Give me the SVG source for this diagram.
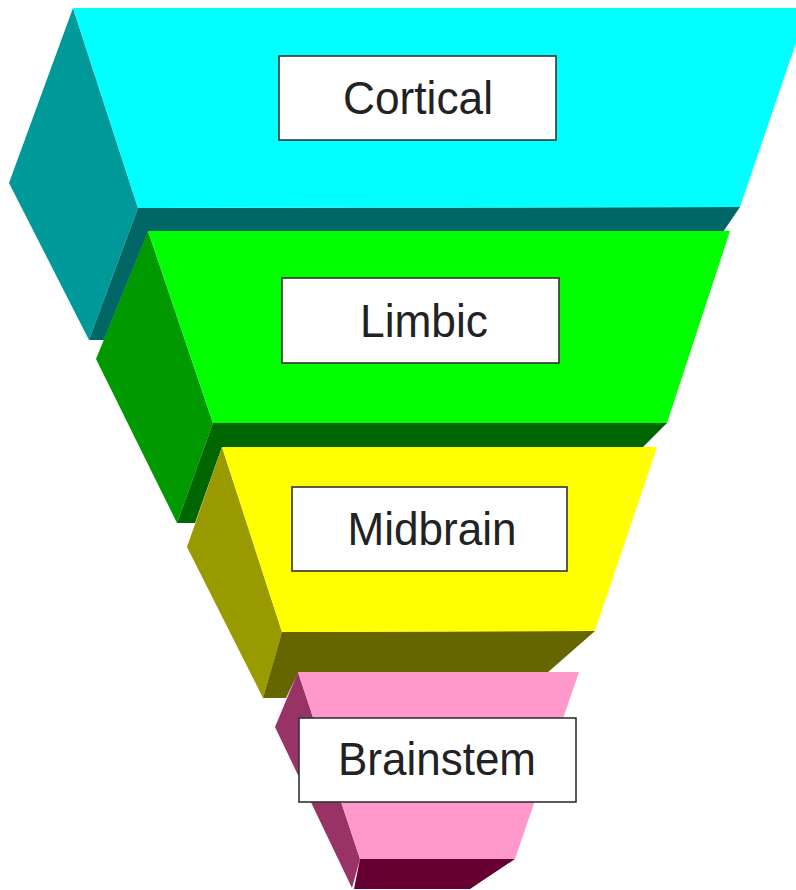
<svg xmlns="http://www.w3.org/2000/svg" width="796" height="890" viewBox="0 0 796 890">
<style>
.box{fill:#ffffff;stroke:#333333;stroke-width:1.6}
.lbl{font-family:"Liberation Sans",Arial,sans-serif;font-size:46px;fill:#222222;text-anchor:middle}
</style>
<rect x="0" y="0" width="796" height="890" fill="#ffffff"/>
<g id="cortical">
<polygon points="73,8 9,183 89,340 138,208" fill="#009999"/>
<polygon points="138,208 740,207 723,232 148,232 104,340 89,340" fill="#006666"/>
<polygon points="73,8 808,8 740,207 138,208" fill="#00ffff"/>
<rect class="box" x="279" y="56" width="277" height="84"/>
<text class="lbl" x="418" y="114" textLength="150" lengthAdjust="spacingAndGlyphs">Cortical</text>
</g>
<g id="limbic">
<polygon points="148,231 96,359 177,523 213,423" fill="#009900"/>
<polygon points="213,423 667,423 642,448 222,447 195,523 177,523" fill="#006600"/>
<polygon points="148,231 730,231 667,423 213,423" fill="#00ff00"/>
<rect class="box" x="282" y="278" width="277" height="85"/>
<text class="lbl" x="424" y="337" textLength="128" lengthAdjust="spacingAndGlyphs">Limbic</text>
</g>
<g id="midbrain">
<polygon points="222,447 187,547 263,698 282,632" fill="#999900"/>
<polygon points="282,632 595,631 547,673 298,673 286,698 263,698" fill="#666600"/>
<polygon points="222,447 657,447 595,631 282,632" fill="#ffff00"/>
<rect class="box" x="292" y="487" width="275" height="84"/>
<text class="lbl" x="432" y="545" textLength="169" lengthAdjust="spacingAndGlyphs">Midbrain</text>
</g>
<g id="brainstem">
<polygon points="298,672 275,727 352,888 360,859" fill="#993366"/>
<polygon points="360,859 515,859 470,889 354,889" fill="#660033"/>
<polygon points="298,672 579,672 515,859 360,859" fill="#ff99cc"/>
<rect class="box" x="299" y="718" width="277" height="84"/>
<text class="lbl" x="437" y="775" textLength="198" lengthAdjust="spacingAndGlyphs">Brainstem</text>
</g>
</svg>
